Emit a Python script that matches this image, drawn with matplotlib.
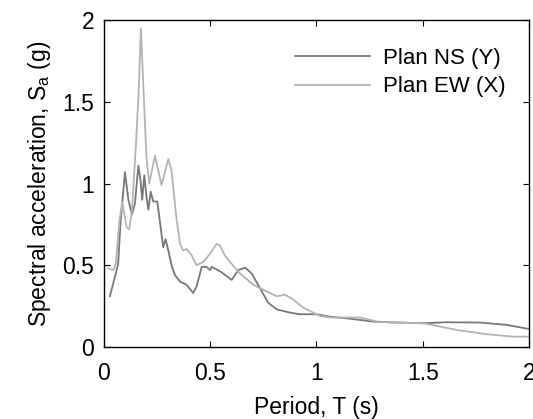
import matplotlib
matplotlib.use('Agg')
import matplotlib.pyplot as plt

plt.rcParams['font.family'] = ['Liberation Sans', 'DejaVu Sans']

# Plan NS (Y)
T_ns = [0.028, 0.044, 0.056, 0.067, 0.078, 0.099, 0.115, 0.132, 0.146, 0.162, 0.172, 0.180,
        0.190, 0.201, 0.209, 0.220, 0.232, 0.251, 0.264, 0.279, 0.290, 0.303, 0.318, 0.334,
        0.358, 0.389, 0.420, 0.436, 0.460, 0.483, 0.499, 0.507, 0.550, 0.601, 0.632, 0.664,
        0.695, 0.734, 0.773, 0.813, 0.875, 0.922, 1.0, 1.064, 1.142, 1.267, 1.346, 1.503,
        1.612, 1.77, 1.895, 2.0]
Sa_ns = [0.31, 0.39, 0.45, 0.51, 0.76, 1.07, 0.90, 0.81, 0.88, 1.11, 1.02, 0.90,
         1.05, 0.91, 0.84, 0.95, 0.89, 0.89, 0.76, 0.61, 0.66, 0.59, 0.50, 0.44,
         0.40, 0.38, 0.33, 0.37, 0.49, 0.49, 0.47, 0.49, 0.46, 0.41, 0.47, 0.485,
         0.45, 0.36, 0.27, 0.23, 0.21, 0.20, 0.20, 0.185, 0.175, 0.155, 0.151, 0.145,
         0.151, 0.149, 0.135, 0.11]

# Plan EW (X)
T_ew = [0.02, 0.044, 0.056, 0.072, 0.086, 0.107, 0.119, 0.132, 0.151, 0.163, 0.174, 0.187,
        0.200, 0.213, 0.240, 0.271, 0.303, 0.318, 0.340, 0.358, 0.373, 0.389, 0.413, 0.436,
        0.467, 0.499, 0.530, 0.546, 0.569, 0.593, 0.64, 0.703, 0.765, 0.813, 0.852, 0.891,
        0.938, 0.985, 1.016, 1.064, 1.205, 1.283, 1.346, 1.503, 1.66, 1.80, 1.926, 2.0]
Sa_ew = [0.48, 0.47, 0.51, 0.76, 0.89, 0.73, 0.72, 0.84, 1.25, 1.55, 1.95, 1.55,
         1.16, 1.00, 1.17, 0.99, 1.15, 1.08, 0.80, 0.63, 0.59, 0.60, 0.56, 0.50,
         0.52, 0.57, 0.63, 0.62, 0.56, 0.52, 0.45, 0.38, 0.34, 0.31, 0.32, 0.29,
         0.24, 0.21, 0.19, 0.18, 0.18, 0.155, 0.149, 0.145, 0.104, 0.078, 0.063, 0.063]

fs = 16.5

fig = plt.figure(figsize=(5.33, 4.19), dpi=100)
ax = fig.add_axes([0.195, 0.172, 0.7975, 0.78])

ax.plot(T_ns, Sa_ns, color='#777777', lw=1.3, label='Plan NS (Y)')
ax.plot(T_ew, Sa_ew, color='#b3b3b3', lw=1.3, label='Plan EW (X)')

ax.set_xlim(0, 2)
ax.set_ylim(0, 2)
ax.set_xticks([0, 0.5, 1, 1.5, 2])
ax.set_xticklabels(['0', '0.5', '1', '1.5', '2'])
ax.set_yticks([0, 0.5, 1, 1.5, 2])
ax.set_yticklabels(['0', '0.5', '1', '1.5', '2'])
ax.tick_params(direction='in', top=True, right=True, labelsize=fs, length=4, pad=7)
ax.tick_params(axis='x', pad=11)
for s in ax.spines.values():
    s.set_linewidth(1.0)

ax.set_xlabel('Period, T (s)', fontsize=fs, labelpad=8)
ax.set_ylabel('Spectral acceleration, S$_\\mathregular{a}$ (g)', fontsize=fs, labelpad=7)

ax.legend(loc='upper right', bbox_to_anchor=(0.945, 0.916), frameon=False, fontsize=16,
          handlelength=3.35, handletextpad=0.6, labelspacing=0.35, borderpad=0,
          borderaxespad=0)

plt.savefig('out.png', dpi=100)
